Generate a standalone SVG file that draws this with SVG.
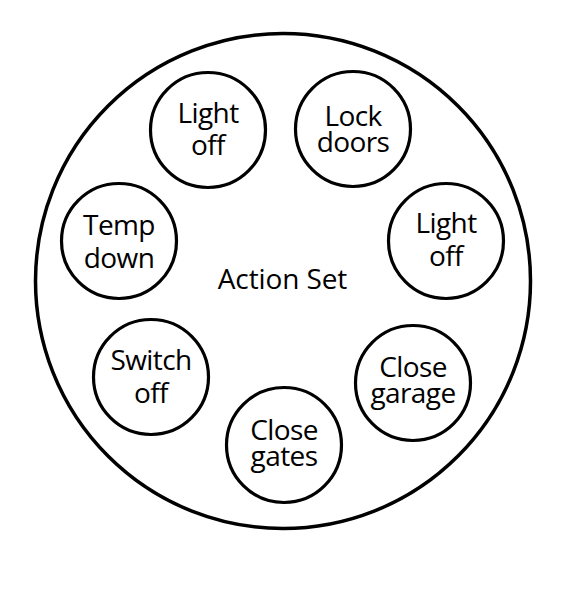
<svg xmlns="http://www.w3.org/2000/svg" width="564" height="593" viewBox="0 0 564 593">
<style>
.c{fill:#fff;stroke:#000;stroke-width:3.2}
.big{fill:#fff;stroke:#000;stroke-width:3.5}
text{font-family:"Open Sans","Noto Sans","DejaVu Sans",sans-serif;font-size:28px;fill:#000;text-anchor:middle;letter-spacing:-0.6px}
.title{letter-spacing:-0.1px}
</style>
<rect width="564" height="593" fill="#fff"/>
<g id="action-set">
<circle class="big" cx="283" cy="281" r="247.5"/>
<text class="title" x="282.5" y="288.5">Action Set</text>
</g>
<g id="connectors"></g>
<g id="light-off-1">
<circle class="c" cx="208" cy="130" r="57.5"/>
<text x="208" y="122.7">Light</text>
<text x="208" y="155">off</text>
</g>
<g id="lock-doors">
<circle class="c" cx="353" cy="129" r="57.5"/>
<text x="353" y="125.7">Lock</text>
<text x="353" y="152.3">doors</text>
</g>
<g id="temp-down">
<circle class="c" cx="119" cy="241" r="57.5"/>
<text x="119" y="234.7">Temp</text>
<text x="119" y="268">down</text>
</g>
<g id="light-off-2">
<circle class="c" cx="446" cy="241" r="57.5"/>
<text x="446" y="233">Light</text>
<text x="446" y="266.3">off</text>
</g>
<g id="switch-off">
<circle class="c" cx="151" cy="377" r="57.5"/>
<text x="151" y="370">Switch</text>
<text x="151" y="403.3">off</text>
</g>
<g id="close-garage">
<circle class="c" cx="413" cy="383" r="57.5"/>
<text x="413" y="377.3">Close</text>
<text x="413" y="403.3">garage</text>
</g>
<g id="close-gates">
<circle class="c" cx="284" cy="445" r="57.5"/>
<text x="284" y="440.3">Close</text>
<text x="284" y="466.3">gates</text>
</g>
</svg>
